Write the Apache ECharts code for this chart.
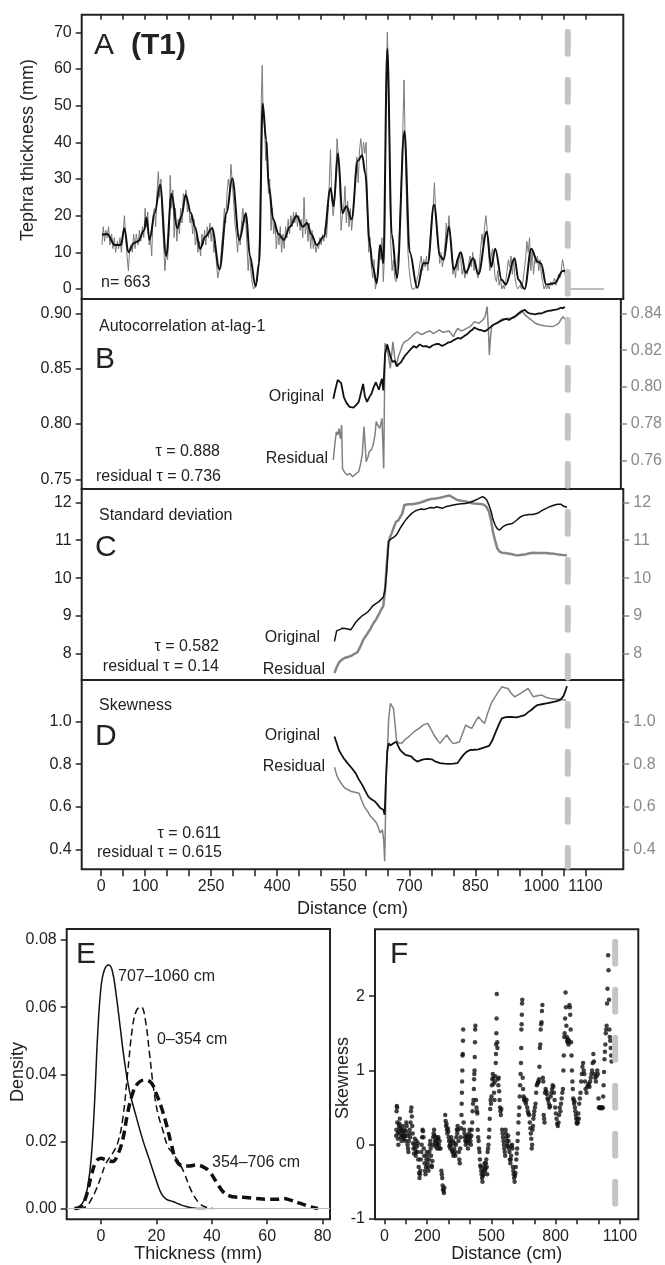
<!DOCTYPE html>
<html><head><meta charset="utf-8">
<script src="https://cdn.jsdelivr.net/npm/echarts@6/dist/echarts.min.js"></script>
<style>html,body{margin:0;padding:0;background:#fff}#c{width:665px;height:1265px}</style>
</head><body><div id="c"></div>
<script>
const FONT = '"Liberation Sans", Arial, Helvetica, sans-serif';

// ---------- DATA ----------
const distTicks = [0,50,100,150,200,250,300,350,400,450,500,550,600,650,700,750,800,850,900,950,1000,1050,1100];
const distLabels = [0,100,250,400,550,700,850,1000,1100];
const dashX = 1060;      // reference distance of the vertical dashed line (A-D)
const dashXF = 1078;     // dashed line in panel F

// Panel A: tephra thickness (mm), raw (grey) and smoothed (black)
const aRaw = [[2,12],[5,17],[8,13],[11,16],[14,14],[17,17],[20,12],[24,15],[27,11],[30,14],[33,10],[37,13],[40,11],[43,14],[46,10],[50,15],[53,20],[56,14],[59,9],[62,5],[65,11],[68,12],[71,10],[74,15],[77,11],[80,15],[84,12],[87,16],[90,13],[94,17],[97,14],[100,22],[103,17],[106,21],[109,12],[112,14],[115,9],[118,20],[121,22],[124,17],[127,26],[130,32],[133,25],[136,30],[139,20],[142,12],[145,5],[148,10],[151,8],[154,15],[157,31],[160,22],[163,27],[166,14],[169,22],[172,13],[175,19],[178,15],[181,22],[184,18],[187,26],[190,24],[193,27],[196,21],[199,23],[202,18],[205,20],[208,15],[211,19],[214,12],[217,15],[220,10],[223,13],[226,9],[229,15],[232,12],[235,16],[238,12],[241,17],[244,14],[247,18],[250,13],[253,17],[256,10],[259,13],[262,7],[265,3],[268,3],[271,7],[274,12],[277,16],[280,22],[283,18],[286,26],[289,30],[292,27],[295,34],[298,29],[301,24],[304,18],[307,15],[310,10],[313,15],[316,12],[319,18],[322,22],[325,18],[328,20],[331,13],[334,5],[337,10],[340,5],[343,2],[346,0],[349,0],[352,1],[355,3],[358,8],[361,20],[364,52],[366,61],[368,48],[371,45],[374,35],[377,40],[380,26],[383,30],[386,16],[389,22],[392,15],[395,18],[398,11],[401,16],[404,12],[407,17],[410,10],[413,15],[416,11],[419,17],[422,14],[425,19],[428,15],[431,20],[434,17],[437,21],[440,18],[443,21],[446,17],[449,20],[452,16],[455,19],[458,14],[461,25],[464,15],[467,19],[470,13],[473,18],[476,11],[479,16],[482,11],[485,13],[488,10],[491,12],[494,11],[497,14],[500,12],[503,15],[506,13],[509,17],[512,14],[515,20],[518,28],[521,38],[524,25],[527,20],[530,23],[533,31],[536,41],[539,36],[542,29],[545,16],[548,20],[551,22],[554,28],[557,18],[560,24],[563,17],[566,22],[569,16],[572,20],[575,25],[578,33],[581,36],[584,29],[587,38],[590,41],[593,36],[596,40],[599,37],[602,40],[605,20],[608,10],[611,14],[614,6],[617,3],[620,8],[623,0],[626,2],[629,4],[632,12],[635,8],[638,14],[641,2],[644,10],[647,50],[650,70],[652,63],[655,40],[658,12],[661,5],[664,8],[667,3],[670,2],[673,8],[676,11],[679,20],[682,30],[685,42],[688,57],[691,38],[694,22],[697,10],[700,5],[703,2],[706,0],[709,0],[712,0],[715,1],[718,3],[721,4],[724,7],[727,9],[730,5],[733,8],[736,6],[739,9],[742,5],[745,10],[748,15],[751,19],[754,22],[757,29],[760,21],[763,15],[766,12],[769,7],[772,10],[775,6],[778,8],[781,12],[784,18],[787,14],[790,20],[793,15],[796,10],[799,4],[802,6],[805,3],[808,8],[811,5],[814,10],[817,8],[820,4],[823,6],[826,3],[829,5],[832,4],[835,7],[838,9],[841,6],[844,10],[847,5],[850,8],[853,5],[856,3],[859,6],[862,11],[865,15],[868,12],[871,17],[874,20],[877,16],[880,10],[883,5],[886,9],[889,11],[892,7],[895,3],[898,2],[901,5],[904,1],[907,3],[910,0],[913,1],[916,0],[919,2],[922,5],[925,8],[928,6],[931,9],[934,4],[937,8],[940,3],[943,1],[946,0],[949,0],[952,1],[955,0],[958,2],[961,5],[964,8],[967,13],[970,10],[973,14],[976,5],[979,11],[982,4],[985,8],[988,7],[991,9],[994,5],[997,8],[1000,4],[1003,2],[1006,0],[1009,1],[1012,0],[1015,1],[1018,0],[1021,2],[1024,1],[1027,2],[1030,3],[1033,1],[1036,2],[1039,4],[1042,3],[1045,5],[1048,8],[1051,6],[1054,4],[1057,1],[1059,0],[1142,0]];
const aSmooth = [[2,14.8],[14,15],[31,12],[45,12],[53,16.6],[62,10],[74,12.5],[84,13],[98,16],[103,19.5],[110,13.4],[122,20.7],[134,28.4],[148,9],[160,26],[173,16.6],[183,20],[192,25.7],[204,20.7],[213,17],[225,11],[237,14.3],[252,16.6],[269,5.3],[285,20.7],[298,30.2],[314,13.4],[329,20.7],[338,9],[351,0.7],[359,7],[367,50.6],[375,40.6],[381,28],[391,19],[403,15],[415,13.4],[429,17],[444,20],[458,17],[468,18],[477,15],[490,12],[506,14.3],[521,27.5],[528,22.6],[538,37],[548,20.7],[557,22.6],[569,19],[583,35],[593,36.5],[600,31.5],[610,12.5],[617,6],[626,1.6],[634,12],[641,7],[650,65.5],[660,15],[672,3],[689,43],[701,10],[718,0.3],[732,7],[742,7],[756,23],[770,9],[778,8],[790,17],[801,5.3],[817,10],[828,4.4],[845,8.4],[857,4],[876,15.7],[886,6],[895,11],[910,2.5],[919,1.2],[939,8.4],[948,2.5],[962,0],[977,11],[991,7.5],[999,7],[1011,1.2],[1030,1.6],[1049,5],[1054,4.8]];

// Panel B: autocorrelation at lag-1
const bOriginal = [[530,0.8228],[534,0.8300],[540,0.8398],[544,0.8380],[548,0.8368],[554,0.8243],[560,0.8190],[567,0.8154],[576,0.8148],[582,0.8170],[588,0.8199],[593,0.8280],[598,0.8362],[602,0.8250],[607,0.8199],[612,0.8240],[617,0.8273],[622,0.8330],[627,0.8377],[634,0.8309],[638,0.8370],[641,0.8407],[644,0.8303],[648,0.8629],[653,0.8718],[660,0.8614],[665,0.8560],[670,0.8570],[675,0.8520],[679,0.8540],[684,0.8555],[693,0.8614],[703,0.8659],[713,0.8703],[720,0.8690],[727,0.8718],[735,0.8700],[742,0.8703],[750,0.8690],[756,0.8709],[763,0.8720],[770,0.8724],[778,0.8705],[785,0.8718],[792,0.8735],[799,0.8742],[806,0.8760],[814,0.8777],[820,0.8770],[828,0.8792],[835,0.8810],[842,0.8837],[847,0.8850],[852,0.8872],[857,0.8860],[862,0.8852],[869,0.8845],[876,0.8837],[881,0.8850],[886,0.8866],[895,0.8896],[903,0.8910],[910,0.8926],[917,0.8940],[924,0.8950],[931,0.8940],[939,0.8961],[946,0.8975],[953,0.9000],[960,0.9020],[967,0.9030],[972,0.9010],[977,0.9000],[984,0.8995],[991,0.8991],[998,0.8998],[1006,0.9000],[1013,0.9012],[1020,0.9021],[1027,0.9025],[1034,0.9030],[1041,0.9035],[1049,0.9050],[1054,0.9045],[1058,0.9059]];
const bResidual = [[530,0.7604],[534,0.7700],[537,0.7757],[540,0.7740],[543,0.7774],[546,0.7720],[549,0.7794],[551,0.7558],[556,0.7535],[561,0.7522],[568,0.7530],[574,0.7513],[580,0.7525],[588,0.7540],[592,0.7580],[596,0.7631],[600,0.7785],[605,0.7594],[609,0.7620],[612,0.7649],[617,0.7660],[621,0.7685],[625,0.7740],[628,0.7812],[632,0.7790],[636,0.7776],[641,0.7830],[645,0.7558],[648,0.8237],[653,0.8210],[657,0.8150],[660,0.8101],[666,0.8246],[670,0.8160],[674,0.8119],[679,0.8170],[684,0.8201],[688,0.8230],[693,0.8246],[700,0.8255],[708,0.8273],[715,0.8290],[722,0.8300],[730,0.8285],[737,0.8291],[744,0.8300],[751,0.8304],[758,0.8290],[765,0.8300],[772,0.8310],[780,0.8297],[787,0.8300],[794,0.8304],[799,0.8290],[804,0.8273],[809,0.8300],[814,0.8319],[821,0.8305],[828,0.8310],[835,0.8320],[842,0.8328],[847,0.8340],[852,0.8355],[857,0.8350],[862,0.8346],[866,0.8355],[871,0.8364],[876,0.8380],[881,0.8436],[884,0.8300],[886,0.8174],[888,0.8250],[891,0.8328],[895,0.8335],[900,0.8346],[907,0.8355],[915,0.8369],[922,0.8370],[929,0.8373],[936,0.8372],[943,0.8376],[950,0.8390],[956,0.8400],[962,0.8409],[968,0.8390],[972,0.8380],[977,0.8373],[984,0.8360],[991,0.8346],[1000,0.8338],[1011,0.8333],[1020,0.8330],[1030,0.8328],[1037,0.8335],[1044,0.8346],[1049,0.8365],[1054,0.8382],[1058,0.8369]];

// Panel C: standard deviation
const cOriginal = [[530,8.33],[535,8.61],[539,8.66],[543,8.65],[548,8.68],[554,8.67],[560,8.66],[567,8.64],[572,8.72],[578,8.83],[585,8.92],[593,9.01],[599,9.05],[605,9.10],[611,9.18],[617,9.27],[624,9.33],[631,9.38],[636,9.44],[641,9.50],[645,9.70],[648,10.07],[651,10.60],[653,10.96],[657,11.02],[660,11.00],[665,11.08],[670,11.13],[674,11.20],[679,11.31],[684,11.40],[689,11.49],[693,11.55],[698,11.62],[705,11.70],[713,11.77],[720,11.80],[727,11.82],[734,11.81],[742,11.84],[750,11.86],[756,11.85],[761,11.88],[768,11.86],[775,11.84],[782,11.88],[790,11.90],[800,11.93],[809,11.95],[818,11.96],[828,11.97],[838,12.00],[847,12.04],[856,12.09],[866,12.15],[871,12.12],[876,12.06],[881,11.92],[886,11.75],[890,11.55],[895,11.40],[900,11.30],[905,11.27],[912,11.35],[919,11.40],[926,11.42],[934,11.44],[943,11.52],[953,11.62],[962,11.66],[972,11.68],[981,11.68],[991,11.71],[1001,11.78],[1011,11.84],[1020,11.89],[1030,11.93],[1037,11.95],[1044,11.95],[1050,11.90],[1054,11.88],[1058,11.87]];
const cResidual = [[530,7.50],[535,7.65],[540,7.77],[547,7.85],[554,7.90],[561,7.92],[568,7.95],[575,8.00],[582,8.04],[589,8.20],[596,8.39],[604,8.52],[611,8.65],[618,8.80],[625,8.92],[633,9.10],[641,9.27],[645,9.70],[648,10.25],[651,10.70],[653,10.96],[657,11.10],[660,11.18],[665,11.35],[670,11.49],[675,11.52],[679,11.53],[684,11.70],[689,11.93],[698,11.95],[705,11.95],[713,11.96],[722,11.98],[732,12.02],[741,12.06],[751,12.09],[760,12.10],[770,12.12],[780,12.15],[790,12.18],[800,12.12],[809,12.06],[818,12.04],[828,12.02],[837,11.99],[847,11.97],[856,11.96],[866,11.95],[874,11.90],[881,11.75],[886,11.50],[890,11.22],[895,10.98],[900,10.78],[905,10.70],[910,10.67],[917,10.66],[924,10.65],[934,10.63],[943,10.60],[952,10.61],[962,10.62],[971,10.65],[981,10.67],[991,10.66],[1001,10.66],[1010,10.66],[1020,10.65],[1030,10.64],[1039,10.62],[1048,10.61],[1058,10.60]];

// Panel D: skewness
const dOriginal = [[530,0.930],[535,0.900],[540,0.867],[546,0.845],[551,0.828],[557,0.812],[563,0.797],[570,0.780],[578,0.758],[585,0.730],[593,0.703],[600,0.675],[607,0.648],[614,0.635],[622,0.625],[628,0.610],[634,0.594],[638,0.590],[641,0.586],[644,0.5625],[646,0.680],[648,0.773],[650,0.860],[653,0.898],[657,0.888],[660,0.891],[665,0.900],[670,0.906],[675,0.885],[679,0.867],[685,0.855],[691,0.844],[698,0.840],[705,0.836],[711,0.822],[718,0.8125],[725,0.818],[732,0.823],[741,0.825],[751,0.823],[760,0.812],[770,0.805],[780,0.803],[790,0.802],[800,0.803],[809,0.805],[816,0.825],[823,0.844],[830,0.858],[838,0.867],[847,0.868],[857,0.870],[869,0.878],[881,0.886],[888,0.910],[895,0.945],[903,0.985],[910,1.016],[917,1.020],[924,1.023],[933,1.022],[943,1.020],[952,1.025],[962,1.031],[970,1.045],[977,1.055],[984,1.068],[991,1.078],[1001,1.082],[1011,1.086],[1020,1.090],[1030,1.094],[1037,1.098],[1044,1.105],[1050,1.120],[1054,1.141],[1058,1.167]];
const dResidual = [[530,0.786],[535,0.750],[540,0.727],[547,0.705],[554,0.6875],[561,0.680],[568,0.672],[577,0.668],[586,0.664],[592,0.630],[597,0.602],[605,0.580],[612,0.555],[619,0.540],[626,0.523],[630,0.500],[634,0.477],[639,0.492],[642,0.440],[644,0.344],[646,0.560],[648,0.773],[651,0.900],[653,1.008],[657,1.086],[660,1.080],[664,1.0625],[667,1.000],[671,0.914],[675,0.900],[679,0.891],[684,0.900],[689,0.914],[696,0.925],[703,0.9375],[712,0.955],[722,0.969],[732,0.985],[742,0.992],[749,0.965],[756,0.9375],[763,0.915],[770,0.898],[777,0.918],[785,0.9375],[792,0.915],[799,0.898],[806,0.900],[814,0.906],[821,0.945],[828,0.984],[835,0.975],[842,0.969],[850,1.000],[857,1.023],[864,1.005],[871,0.992],[878,1.040],[886,1.086],[890,1.100],[895,1.117],[902,1.140],[910,1.164],[917,1.160],[924,1.156],[931,1.135],[939,1.117],[946,1.125],[953,1.133],[961,1.145],[970,1.156],[976,1.135],[982,1.117],[991,1.122],[1001,1.125],[1010,1.115],[1020,1.109],[1030,1.107],[1039,1.105],[1048,1.103],[1056,1.102]];

// Panel E: density of thickness by distance section
const e707_1060 = [[-9.6,0],[-7.8,0.0006],[-6.0,0.0026],[-4.8,0.0066],[-3.6,0.0145],[-2.4,0.0304],[-1.2,0.0522],[0,0.0661],[1.2,0.0711],[2.7,0.0726],[4.0,0.0711],[5.4,0.0641],[6.9,0.0542],[8.4,0.0443],[10.2,0.0353],[12.7,0.0274],[15.1,0.0204],[17.5,0.0145],[19.9,0.0085],[21.7,0.0046],[23.5,0.0028],[25.9,0.0021],[28.3,0.0013],[30.7,0.0006],[33.1,0.0002],[35.5,0],[38,0]];
const e0_354 = [[-7.8,0],[-5.4,0.0006],[-3.6,0.0026],[-1.8,0.0056],[0,0.0095],[1.8,0.0135],[4.2,0.0165],[6.0,0.0195],[7.8,0.0264],[9.6,0.0403],[11.4,0.0542],[12.9,0.0592],[14.5,0.0601],[16.0,0.0562],[17.5,0.0463],[18.9,0.0363],[20.5,0.0284],[22.3,0.0234],[24.1,0.0185],[25.9,0.0165],[28.3,0.0135],[30.1,0.0105],[31.9,0.0066],[33.7,0.0036],[35.5,0.0016],[37.3,0.0006],[40.4,0]];
const e354_706 = [[-9.6,0],[-7.2,0.0006],[-5.4,0.0036],[-3.6,0.0095],[-1.8,0.014],[0,0.015],[1.8,0.0145],[4.2,0.014],[6.0,0.016],[7.8,0.0204],[9.6,0.0284],[11.4,0.0343],[13.3,0.0373],[15.7,0.0383],[18.1,0.0375],[19.9,0.0343],[21.7,0.0304],[23.5,0.0254],[25.3,0.0195],[27.1,0.0145],[29.5,0.0127],[31.9,0.0127],[34.3,0.013],[36.7,0.0125],[39.2,0.011],[41.6,0.008],[44.0,0.0051],[46.4,0.0038],[48.8,0.0034],[52.4,0.0033],[56.0,0.003],[59.6,0.0028],[63.3,0.0028],[65.7,0.003],[68.1,0.0026],[71.7,0.0016],[75.3,0.0006],[78.3,0]];
const thickTicks = [0,20,40,60,80];
const densTicks = [0,0.02,0.04,0.06,0.08];

// Panel F: skewness vs distance
const fSkew = [[55,0.12],[56,0.2],[57,0.45],[58,0.52],[59,0.5],[60,0.3],[62,0.15],[63,0.08],[65,0.0],[67,0.18],[68,0.25],[70,0.28],[72,0.35],[73,0.22],[75,0.15],[77,0.1],[79,0.2],[80,0.05],[82,0.12],[84,0.18],[86,0.25],[88,0.1],[90,0.15],[92,0.08],[94,0.2],[96,0.12],[98,0.05],[100,0.18],[102,0.3],[104,0.25],[106,0.12],[108,0.0],[110,-0.05],[112,-0.1],[114,0.05],[116,0.15],[118,0.2],[120,0.1],[122,0.3],[124,0.45],[126,0.5],[128,0.38],[130,0.25],[132,0.15],[134,0.02],[136,-0.05],[138,-0.12],[140,0.0],[142,0.08],[144,-0.05],[146,-0.15],[148,-0.1],[150,0.05],[152,-0.02],[154,-0.1],[156,0.02],[158,-0.2],[160,-0.3],[162,-0.38],[164,-0.45],[166,-0.4],[168,-0.35],[170,-0.2],[172,-0.1],[174,0.0],[176,0.1],[178,0.2],[180,0.18],[182,0.1],[184,-0.05],[186,-0.15],[188,-0.25],[190,-0.35],[192,-0.4],[194,-0.3],[196,-0.2],[198,-0.1],[200,-0.15],[202,-0.25],[204,-0.3],[206,-0.35],[208,-0.2],[210,-0.1],[212,0.0],[214,0.05],[216,-0.05],[218,-0.15],[220,-0.28],[222,-0.3],[224,-0.22],[226,0.0],[228,0.1],[230,0.15],[232,0.2],[234,0.12],[236,0.05],[238,-0.02],[240,0.02],[242,0.1],[244,0.05],[246,-0.05],[248,0.0],[250,0.08],[252,0.1],[254,0.0],[256,-0.05],[258,0.05],[262,-0.05],[266,-0.35],[268,-0.4],[270,-0.45],[272,-0.55],[274,-0.6],[276,-0.62],[278,-0.65],[280,-0.58],[284,0.4],[286,0.32],[288,0.25],[290,0.28],[292,0.2],[294,0.15],[296,0.22],[298,0.18],[300,0.1],[302,0.05],[304,-0.02],[306,0.0],[308,-0.05],[310,0.05],[312,0.1],[314,0.0],[316,-0.08],[318,-0.1],[320,0.05],[322,-0.15],[324,-0.12],[326,-0.05],[328,0.02],[330,-0.1],[332,-0.15],[334,0.0],[336,0.1],[338,0.2],[340,0.15],[342,0.25],[344,0.2],[346,0.05],[348,-0.1],[350,-0.2],[352,-0.25],[354,-0.05],[356,0.1],[358,0.22],[360,0.4],[361,0.55],[362,0.7],[363,0.85],[364,1.0],[365,1.2],[366,1.22],[367,1.4],[368,1.55],[370,0.3],[372,0.2],[374,0.15],[376,0.1],[378,0.05],[380,0.0],[382,0.05],[384,0.1],[386,0.12],[388,0.05],[390,-0.05],[392,0.02],[394,0.08],[396,0.15],[398,0.2],[400,0.1],[402,0.05],[404,0.0],[406,0.12],[408,0.2],[410,0.3],[412,0.45],[414,0.55],[416,0.6],[418,0.75],[419,0.88],[420,0.95],[421,1.0],[422,1.18],[423,1.38],[424,1.55],[425,1.6],[428,0.6],[430,0.5],[432,0.45],[434,0.42],[436,0.2],[438,0.1],[440,0.05],[442,-0.05],[444,-0.1],[446,-0.2],[448,-0.28],[450,-0.3],[452,-0.35],[454,-0.4],[456,-0.45],[458,-0.5],[460,-0.42],[462,-0.35],[464,-0.4],[466,-0.3],[468,-0.25],[470,-0.35],[472,-0.32],[474,-0.25],[476,-0.2],[478,-0.3],[480,-0.4],[482,-0.1],[484,-0.05],[486,0.0],[488,0.1],[490,0.2],[492,0.35],[494,0.48],[496,0.6],[498,0.55],[500,0.65],[502,0.8],[504,0.88],[506,0.95],[508,0.9],[510,0.82],[512,0.7],[514,0.6],[516,0.85],[518,0.92],[520,1.1],[521,1.22],[522,1.35],[523,1.5],[524,1.7],[525,2.03],[527,1.38],[528,1.3],[530,0.88],[532,0.8],[534,0.9],[536,0.72],[538,0.6],[540,0.5],[542,0.45],[544,0.4],[546,0.48],[550,0.2],[552,0.15],[554,0.1],[556,0.05],[558,0.0],[560,-0.05],[562,-0.1],[564,-0.15],[566,0.2],[568,0.15],[570,0.1],[572,0.05],[574,0.0],[576,-0.02],[578,0.12],[580,0.05],[582,-0.05],[584,-0.1],[586,-0.2],[588,-0.25],[590,-0.2],[592,-0.15],[594,-0.02],[596,0.0],[598,-0.05],[600,-0.3],[602,-0.35],[604,-0.4],[606,-0.45],[608,-0.5],[610,-0.42],[612,-0.38],[614,-0.3],[616,-0.2],[618,-0.12],[620,-0.05],[622,0.05],[624,0.15],[626,0.3],[628,0.4],[630,0.5],[632,0.65],[634,0.8],[636,0.95],[638,1.1],[639,1.3],[640,1.55],[641,1.62],[642,1.75],[643,1.9],[644,1.95],[646,0.9],[648,0.75],[650,0.65],[652,0.6],[655,0.62],[658,0.58],[661,0.55],[664,0.6],[667,0.5],[670,0.45],[673,0.42],[676,0.4],[679,0.3],[682,0.22],[684,0.15],[686,0.08],[688,-0.05],[690,0.0],[692,0.2],[694,0.25],[696,0.35],[698,0.4],[700,0.45],[703,0.5],[706,0.55],[709,0.7],[712,0.8],[715,0.82],[718,0.84],[720,0.85],[722,0.88],[724,1.05],[726,1.3],[728,1.35],[730,1.55],[732,1.62],[734,1.65],[736,1.8],[738,1.88],[740,0.9],[742,0.85],[744,0.4],[746,0.35],[748,0.3],[750,0.7],[753,0.75],[756,0.72],[759,0.68],[762,0.62],[765,0.6],[768,0.55],[771,0.5],[774,0.52],[777,0.65],[780,0.7],[783,0.75],[786,0.8],[789,0.78],[792,0.7],[795,0.6],[798,0.5],[801,0.42],[804,0.35],[807,0.28],[810,0.25],[813,0.3],[816,0.4],[819,0.5],[822,0.45],[825,0.55],[828,0.62],[831,0.7],[834,0.75],[836,1.0],[838,1.2],[840,1.45],[842,1.5],[844,1.7],[846,2.05],[848,1.85],[850,1.6],[852,1.45],[854,1.4],[856,1.38],[858,1.42],[860,1.35],[862,1.4],[864,1.88],[866,1.85],[868,1.75],[870,1.55],[872,1.38],[874,1.2],[876,1.0],[878,0.85],[880,0.75],[882,0.62],[884,0.6],[886,0.55],[888,0.58],[890,0.5],[892,0.45],[894,0.4],[896,0.35],[898,0.3],[900,0.28],[902,0.35],[904,0.3],[906,0.42],[908,0.35],[910,0.55],[913,0.62],[916,0.7],[919,0.85],[922,0.95],[925,1.05],[928,1.1],[931,1.0],[934,0.95],[937,0.85],[940,0.75],[944,0.7],[948,0.78],[952,0.8],[955,0.82],[958,0.78],[961,0.85],[964,0.9],[967,0.95],[970,1.0],[973,1.1],[976,1.22],[979,1.12],[982,0.95],[985,0.9],[988,0.85],[991,0.92],[994,1.0],[997,0.95],[1000,0.62],[1002,0.5],[1005,0.5],[1008,0.49],[1011,0.5],[1014,0.5],[1017,0.49],[1020,0.5],[1022,0.65],[1024,0.8],[1026,0.98],[1028,1.15],[1030,1.25],[1032,1.35],[1034,1.5],[1036,1.55],[1038,1.6],[1040,1.9],[1042,2.1],[1045,2.55],[1047,2.35],[1049,1.95],[1051,1.55],[1053,1.45],[1055,1.4],[1057,1.3],[1059,1.2],[1061,1.12]];
const fDistTicks = [0,100,200,300,400,500,600,700,800,900,1000,1100];
const fDistLabels = [0,200,500,800,1100];
const fSkewTicks = [-1,0,1,2];

// ---------- CHART ----------
const INK = '#222', GREY = '#8a8a8a', DASH = '#c4c4c8';
const chart = echarts.init(document.getElementById('c'), null, {renderer: 'canvas'});
const plain = v => String(v);

function yAx(gi, pos, min, max, ticks, fmt, color, extra) {
  return Object.assign({
    type: 'value', gridIndex: gi, position: pos, min: min, max: max,
    axisLine: {show: false, onZero: false}, splitLine: {show: false},
    axisTick: {show: true, inside: false, length: 6, customValues: ticks, lineStyle: {color: color, width: 1.5}},
    axisLabel: {show: true, customValues: ticks, formatter: fmt, color: color, fontSize: 16, fontFamily: FONT, margin: 10}
  }, extra || {});
}
function xAx(gi, pos, min, max, ticks, labels, inside, len, extra) {
  return Object.assign({
    type: 'value', gridIndex: gi, position: pos, min: min, max: max,
    axisLine: {show: false, onZero: false}, splitLine: {show: false},
    axisTick: {show: !!ticks, inside: inside, length: len, customValues: ticks || [], lineStyle: {color: INK, width: 1.5}},
    axisLabel: {show: !!labels, customValues: labels || [], formatter: plain, color: INK, fontSize: 16, fontFamily: FONT, margin: 9}
  }, extra || {});
}
const gridBase = {show: true, borderColor: INK, borderWidth: 2, backgroundColor: 'transparent', containLabel: false};
const XMIN = -44, XMAX = 1186;

function txt(text, x, y, size, align, weight, color) {
  return {type: 'text', x: x, y: y, z: 100, silent: true,
    style: {text: text, font: (weight || 'normal') + ' ' + size + 'px ' + FONT, fill: color || INK,
      align: align || 'left', verticalAlign: 'middle', textAlign: align || 'left', textVerticalAlign: 'middle'}};
}
function vtxt(text, x, y, size) {
  return {type: 'text', x: x, y: y, rotation: Math.PI / 2, z: 100, silent: true,
    style: {text: text, font: size + 'px ' + FONT, fill: INK, align: 'center', verticalAlign: 'middle',
      textAlign: 'center', textVerticalAlign: 'middle'}};
}
const nameStyle = {fontSize: 18, fontFamily: FONT, color: INK};

const option = {
  animation: false,
  backgroundColor: '#fff',
  grid: [
    Object.assign({left: 81.7, top: 14.7, width: 541.6, height: 284.3}, gridBase),
    Object.assign({left: 81.7, top: 299, width: 541.6, height: 190}, gridBase),
    Object.assign({left: 81.7, top: 489, width: 541.6, height: 191}, gridBase),
    Object.assign({left: 81.7, top: 680, width: 541.6, height: 189.3}, gridBase),
    Object.assign({left: 66.7, top: 929, width: 263.3, height: 290.3}, gridBase),
    Object.assign({left: 375, top: 929.3, width: 263.3, height: 290}, gridBase),
    {left: 81.7, top: 14.7, width: 541.6, height: 854.6, show: false}
  ],
  xAxis: [
    xAx(0, 'top', XMIN, XMAX, distTicks, null, true, 5),
    xAx(1, 'bottom', XMIN, XMAX, null, null, false, 0, {show: false}),
    xAx(2, 'bottom', XMIN, XMAX, null, null, false, 0, {show: false}),
    xAx(3, 'bottom', XMIN, XMAX, distTicks, distLabels, false, 7,
      {name: 'Distance (cm)', nameLocation: 'middle', nameGap: 31, nameTextStyle: nameStyle}),
    xAx(4, 'bottom', -12.4, 82.7, thickTicks, thickTicks, false, 5,
      {name: 'Thickness (mm)', nameLocation: 'middle', nameGap: 26, nameTextStyle: nameStyle}),
    xAx(5, 'bottom', XMIN, XMAX, fDistTicks, fDistLabels, false, 5,
      {name: 'Distance (cm)', nameLocation: 'middle', nameGap: 26, nameTextStyle: nameStyle}),
    xAx(6, 'bottom', XMIN, XMAX, null, null, false, 0, {show: false})
  ],
  yAxis: [
    yAx(0, 'left', -2.72, 74.8, [0,10,20,30,40,50,60,70], plain, INK),
    yAx(1, 'left', 0.7412, 0.9129, [0.75,0.80,0.85,0.90], v => v.toFixed(2), INK),
    yAx(1, 'right', 0.7446, 0.8478, [0.76,0.78,0.80,0.82,0.84], v => v.toFixed(2), GREY),
    yAx(2, 'left', 7.314, 12.35, [8,9,10,11,12], plain, INK),
    yAx(2, 'right', 7.314, 12.35, [8,9,10,11,12], plain, GREY),
    yAx(3, 'left', 0.306, 1.196, [0.4,0.6,0.8,1.0], v => v.toFixed(1), INK),
    yAx(3, 'right', 0.306, 1.196, [0.4,0.6,0.8,1.0], v => v.toFixed(1), GREY),
    yAx(4, 'left', -0.0032, 0.0833, densTicks, v => v.toFixed(2), INK),
    yAx(5, 'left', -1.005, 2.9, fSkewTicks, plain, INK),
    {type: 'value', gridIndex: 6, min: 0, max: 1, show: false}
  ],
  series: [
    {type: 'line', xAxisIndex: 0, yAxisIndex: 0, data: aRaw, symbol: 'none', lineStyle: {color: '#7a7a7a', width: 1}, z: 2},
    {type: 'line', xAxisIndex: 0, yAxisIndex: 0, data: aSmooth, symbol: 'none', smooth: 0.35, smoothMonotone: 'x', lineStyle: {color: '#111', width: 2}, z: 3},
    {type: 'line', xAxisIndex: 1, yAxisIndex: 2, data: bResidual, symbol: 'none', lineStyle: {color: '#808080', width: 1.5}, z: 2},
    {type: 'line', xAxisIndex: 1, yAxisIndex: 1, data: bOriginal, symbol: 'none', lineStyle: {color: '#111', width: 1.8}, z: 3},
    {type: 'line', xAxisIndex: 2, yAxisIndex: 3, data: cResidual, symbol: 'none', lineStyle: {color: '#858585', width: 2.5}, z: 2},
    {type: 'line', xAxisIndex: 2, yAxisIndex: 3, data: cOriginal, symbol: 'none', lineStyle: {color: '#111', width: 1.5}, z: 3},
    {type: 'line', xAxisIndex: 3, yAxisIndex: 5, data: dResidual, symbol: 'none', lineStyle: {color: '#808080', width: 1.5}, z: 2},
    {type: 'line', xAxisIndex: 3, yAxisIndex: 5, data: dOriginal, symbol: 'none', lineStyle: {color: '#111', width: 1.8}, z: 3},
    {type: 'line', xAxisIndex: 4, yAxisIndex: 7, data: e707_1060, symbol: 'none', smooth: 0.4, lineStyle: {color: '#111', width: 1.5}, z: 3,
      markLine: {silent: true, symbol: 'none', label: {show: false}, lineStyle: {color: '#bbbbbb', width: 1.2, type: 'solid'}, data: [{yAxis: 0}]}},
    {type: 'line', xAxisIndex: 4, yAxisIndex: 7, data: e0_354, symbol: 'none', smooth: 0.4, lineStyle: {color: '#111', width: 1.5, type: [7, 4]}, z: 3},
    {type: 'line', xAxisIndex: 4, yAxisIndex: 7, data: e354_706, symbol: 'none', smooth: 0.4, lineStyle: {color: '#111', width: 3.5, type: [9, 5]}, z: 3},
    {type: 'scatter', xAxisIndex: 5, yAxisIndex: 8, data: fSkew, symbol: 'circle', symbolSize: 4.5, itemStyle: {color: '#111'}, z: 3},
    {type: 'line', xAxisIndex: 5, yAxisIndex: 8, data: [[dashXF, 2.733], [dashXF, -0.879]], symbol: 'none',
      lineStyle: {color: DASH, width: 6, type: [22, 26], cap: 'round'}, z: 4},
    {type: 'line', xAxisIndex: 6, yAxisIndex: 9, data: [[dashX, 0.980], [dashX, 0.003]], symbol: 'none',
      lineStyle: {color: DASH, width: 6, type: [22, 26], cap: 'round'}, z: 4}
  ],
  graphic: [
    txt('A', 94, 46, 30),
    txt('(T1)', 131, 46, 30, 'left', 'bold'),
    txt('n= 663', 101, 283, 16),
    vtxt('Tephra thickness (mm)', 28, 150, 18),
    txt('Autocorrelation at-lag-1', 99, 327, 16),
    txt('B', 95, 360, 30),
    txt('Original', 324, 397, 16, 'right'),
    txt('Residual', 328, 459, 16, 'right'),
    txt('\u03c4 = 0.888', 220, 452, 16, 'right'),
    txt('residual \u03c4 = 0.736', 221, 477, 16, 'right'),
    txt('Standard deviation', 99, 516, 16),
    txt('C', 95, 548, 30),
    txt('Original', 320, 638, 16, 'right'),
    txt('Residual', 325, 670, 16, 'right'),
    txt('\u03c4 = 0.582', 219, 647, 16, 'right'),
    txt('residual \u03c4 = 0.14', 219, 667, 16, 'right'),
    txt('Skewness', 99, 706, 16),
    txt('D', 95, 737, 30),
    txt('Original', 320, 736, 16, 'right'),
    txt('Residual', 325, 767, 16, 'right'),
    txt('\u03c4 = 0.611', 221, 834, 16, 'right'),
    txt('residual \u03c4 = 0.615', 222, 853, 16, 'right'),
    txt('E', 76, 955, 30),
    txt('707\u20131060 cm', 118, 977, 16),
    txt('0\u2013354 cm', 157, 1040, 16),
    txt('354\u2013706 cm', 212, 1163, 16),
    vtxt('Density', 18, 1072, 18),
    txt('F', 390, 955, 30),
    vtxt('Skewness', 343, 1078, 18)
  ]
};
chart.setOption(option);
</script></body></html>
